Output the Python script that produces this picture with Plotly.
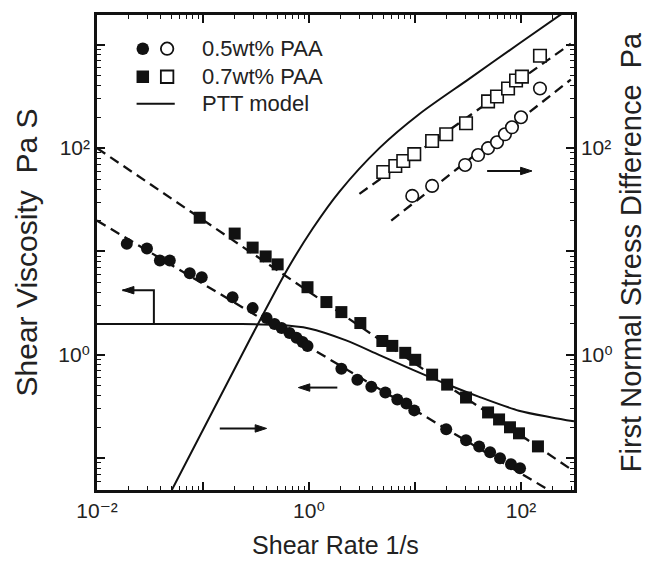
import plotly.graph_objects as go

# ---------------- data ----------------
# shear viscosity, 0.5 wt% PAA (filled circles)
visc05_rate = [0.0191, 0.0296, 0.0392, 0.0486, 0.075, 0.0973, 0.19, 0.294, 0.398, 0.473,
               0.551, 0.655, 0.762, 0.869, 0.968, 2.02, 2.86, 3.87, 5.25, 6.81,
               8.28, 9.84, 19.7, 30.3, 40.3, 51.1, 63.4, 80.5, 97.9]
visc05 = [11.9, 10.7, 8.18, 8.18, 6.14, 5.62, 3.61, 2.83, 2.27, 1.99,
          1.82, 1.63, 1.46, 1.33, 1.22, 0.733, 0.575, 0.492, 0.432, 0.369,
          0.338, 0.29, 0.19, 0.149, 0.13, 0.114, 0.1, 0.0875, 0.08]

# shear viscosity, 0.7 wt% PAA (filled squares)
visc07_rate = [0.0931, 0.199, 0.294, 0.39, 0.506, 0.968, 1.46, 2.02, 3.05, 4.92,
               6.11, 8.09, 10.05, 14.5, 20.1, 30.3, 48.9, 62.1, 78.7, 95.7, 144.5]
visc07 = [21.2, 14.9, 10.9, 8.95, 7.5, 4.51, 3.24, 2.59, 2.03, 1.36,
          1.22, 1.045, 0.895, 0.643, 0.515, 0.386, 0.277, 0.237, 0.199, 0.174, 0.130]

# first normal stress difference, 0.5 wt% PAA (open circles)
n1_05_rate = [9.42, 14.5, 29.7, 39.4, 48.9, 59.4, 70.6, 82.2, 100, 151]
n1_05 = [34.5, 43.1, 68.7, 85.7, 100, 114, 136, 159, 199, 378]

# first normal stress difference, 0.7 wt% PAA (open squares)
n1_07_rate = [5.02, 6.52, 7.75, 9.84, 14.5, 19.7, 30.3, 48.9, 59.4, 75.5, 89.8, 102, 151]
n1_07 = [58.8, 67.1, 75.0, 87.5, 117, 136, 174, 283, 316, 378, 451, 492, 784]

# PTT model curves
ptt_visc_rate = [0.01, 0.2, 0.501, 1.0, 2.24, 4.57, 9.33, 19.5, 39.8, 95.5, 195, 316]
ptt_visc = [1.99, 1.99, 1.95, 1.80, 1.38, 1.0, 0.724, 0.525, 0.394, 0.288, 0.248, 0.227]
ptt_n1_rate = [0.0508, 0.275, 0.628, 1.08, 1.94, 4.61, 11.0, 32.4, 95.5, 251]
ptt_n1 = [0.0492, 1.39, 6.76, 16.6, 38.0, 100, 214, 468, 1023, 2042]

# dashed power-law fits (end points)
fit_v05_rate = [0.01, 176]
fit_v05 = [19.9, 0.0503]
fit_v07_rate = [0.01, 295]
fit_v07 = [100, 0.0783]
fit_n05_rate = [5.97, 295]
fit_n05 = [19.9, 460]
fit_n07_rate = [2.99, 295]
fit_n07 = [36.1, 1023]

# axis ticks
x_labeled = [0.01, 1, 100]
x_labeled_text = ["10\u207b\u00b2", "10\u2070", "10\u00b2"]
x_unlabeled = [0.1, 10]
y_labeled = [1, 100]
y_labeled_text = ["10\u2070", "10\u00b2"]
y_unlabeled = [0.1, 10, 1000]
legend_labels = ["0.5wt% PAA", "0.7wt% PAA", "PTT model"]

# pointer arrows: (rate, value) polyline, head at the last point, axis used
arrows = [
    ([0.0344, 0.0344, 0.0174], [1.99, 4.22, 4.22], "y"),
    ([1.85, 0.794], [0.482, 0.482], "y"),
    ([0.144, 0.398], [0.194, 0.194], "y"),
    ([47.9, 127], [60.1, 60.1], "y2"),
]

# ---------------- figure ----------------
FONT = "Liberation Sans, Arial, Helvetica, DejaVu Sans, sans-serif"
INK = "#111111"
TXT = "#222222"
minor_vals = [k * 10.0 ** e for e in range(-3, 4) for k in range(2, 10)]

fig = go.Figure()
dash = "10px,6px"
for xs, ys, ax in [(fit_v05_rate, fit_v05, "y"), (fit_v07_rate, fit_v07, "y"),
                   (fit_n05_rate, fit_n05, "y2"), (fit_n07_rate, fit_n07, "y2")]:
    fig.add_trace(go.Scatter(x=xs, y=ys, mode="lines", yaxis=ax, showlegend=False,
                             line=dict(color=INK, width=2.3, dash=dash)))

fig.add_trace(go.Scatter(x=ptt_visc_rate, y=ptt_visc, mode="lines", showlegend=False,
                         line=dict(color=INK, width=2, shape="spline", smoothing=0.8)))
fig.add_trace(go.Scatter(x=ptt_n1_rate, y=ptt_n1, mode="lines", yaxis="y2", showlegend=False,
                         line=dict(color=INK, width=2, shape="spline", smoothing=0.8)))

fig.add_trace(go.Scatter(x=visc05_rate, y=visc05, mode="markers", showlegend=False,
                         marker=dict(symbol="circle", size=12, color=INK)))
fig.add_trace(go.Scatter(x=visc07_rate, y=visc07, mode="markers", showlegend=False,
                         marker=dict(symbol="square", size=12, color=INK)))
fig.add_trace(go.Scatter(x=n1_05_rate, y=n1_05, mode="markers", yaxis="y2", showlegend=False,
                         marker=dict(symbol="circle", size=12.5, color="white",
                                     line=dict(color=INK, width=1.6))))
fig.add_trace(go.Scatter(x=n1_07_rate, y=n1_07, mode="markers", yaxis="y2", showlegend=False,
                         marker=dict(symbol="square", size=12.5, color="white",
                                     line=dict(color=INK, width=1.6))))

# arrows as lines with an arrow-head marker at the end
for xs, ys, ax in arrows:
    n = len(xs)
    fig.add_trace(go.Scatter(x=xs, y=ys, mode="lines+markers", yaxis=ax, showlegend=False,
                             line=dict(color=INK, width=2),
                             marker=dict(symbol=["circle"] * (n - 1) + ["arrow"],
                                         size=[0] * (n - 1) + [12], color=INK, opacity=1,
                                         angleref="previous", line=dict(width=1, color=INK))))

# hand-built legend (two symbols per entry) on a hidden overlay axis pair
row_y = [0.929, 0.870, 0.813]
fig.add_trace(go.Scatter(x=[0.096, 0.096], y=row_y[:2], mode="markers", xaxis="x3", yaxis="y3",
                         showlegend=False, marker=dict(symbol=["circle", "square"], size=12.5, color=INK)))
fig.add_trace(go.Scatter(x=[0.147, 0.147], y=row_y[:2], mode="markers", xaxis="x3", yaxis="y3",
                         showlegend=False, marker=dict(symbol=["circle", "square"], size=12.5, color="white",
                                                       line=dict(color=INK, width=1.8))))
fig.add_trace(go.Scatter(x=[0.083, 0.163], y=[row_y[2], row_y[2]], mode="lines", xaxis="x3", yaxis="y3",
                         showlegend=False, line=dict(color=INK, width=2)))

annotations = []
for lab, yy in zip(legend_labels, row_y):
    annotations.append(dict(x=0.215, y=yy, xref="paper", yref="paper", text=lab, showarrow=False,
                            xanchor="left", yanchor="middle", font=dict(family=FONT, size=22, color=TXT)))

tick_common = dict(ticks="inside", ticklen=8, tickwidth=1.8, tickcolor=INK)
axis_common = dict(type="log", showgrid=False, zeroline=False, showline=True, linecolor=INK,
                   linewidth=2.5, tickfont=dict(family=FONT, size=21, color=TXT),
                   minor=dict(tickmode="array", tickvals=minor_vals, ticks="inside", ticklen=4,
                              tickwidth=1.2, tickcolor=INK, showgrid=False),
                   **tick_common)
# overlay axes that only draw the long, unlabeled decade ticks
bare = dict(type="log", showgrid=False, zeroline=False, showline=False, showticklabels=False,
            tickmode="array", **tick_common)

XR = [-2, 2.5]
YR = [-1.308, 3.288]
fig.update_layout(
    width=654, height=567,
    margin=dict(l=97, r=79, t=13, b=76),
    paper_bgcolor="white", plot_bgcolor="white",
    showlegend=False,
    xaxis=dict(range=XR, tickmode="array", tickvals=x_labeled, ticktext=x_labeled_text,
               mirror="ticks",
               title=dict(text="Shear Rate 1/s", font=dict(family=FONT, size=25, color=TXT), standoff=16),
               **axis_common),
    yaxis=dict(range=YR, tickmode="array", tickvals=y_labeled, ticktext=y_labeled_text,
               title=dict(text="Shear Viscosity\u00a0 Pa S", font=dict(family=FONT, size=30, color=TXT),
                          standoff=12),
               **axis_common),
    yaxis2=dict(range=YR, tickmode="array", tickvals=y_labeled, ticktext=y_labeled_text,
                overlaying="y", side="right",
                title=dict(text="First Normal Stress Difference\u00a0 Pa",
                           font=dict(family=FONT, size=29, color=TXT), standoff=9),
                **axis_common),
    xaxis3=dict(range=[0, 1], overlaying="x", visible=False),
    yaxis3=dict(range=[0, 1], overlaying="y", visible=False),
    xaxis4=dict(range=XR, overlaying="x", side="bottom", mirror="ticks", tickvals=x_unlabeled, **bare),
    yaxis4=dict(range=YR, overlaying="y", side="left", mirror="ticks", tickvals=y_unlabeled, **bare),
    annotations=annotations,
)
# invisible trace so the bare overlay axes are drawn
fig.add_trace(go.Scatter(x=[0.1], y=[1], xaxis="x4", yaxis="y4", mode="markers",
                         marker=dict(size=0, opacity=0), showlegend=False, hoverinfo="skip"))

fig.write_html("out.html")
